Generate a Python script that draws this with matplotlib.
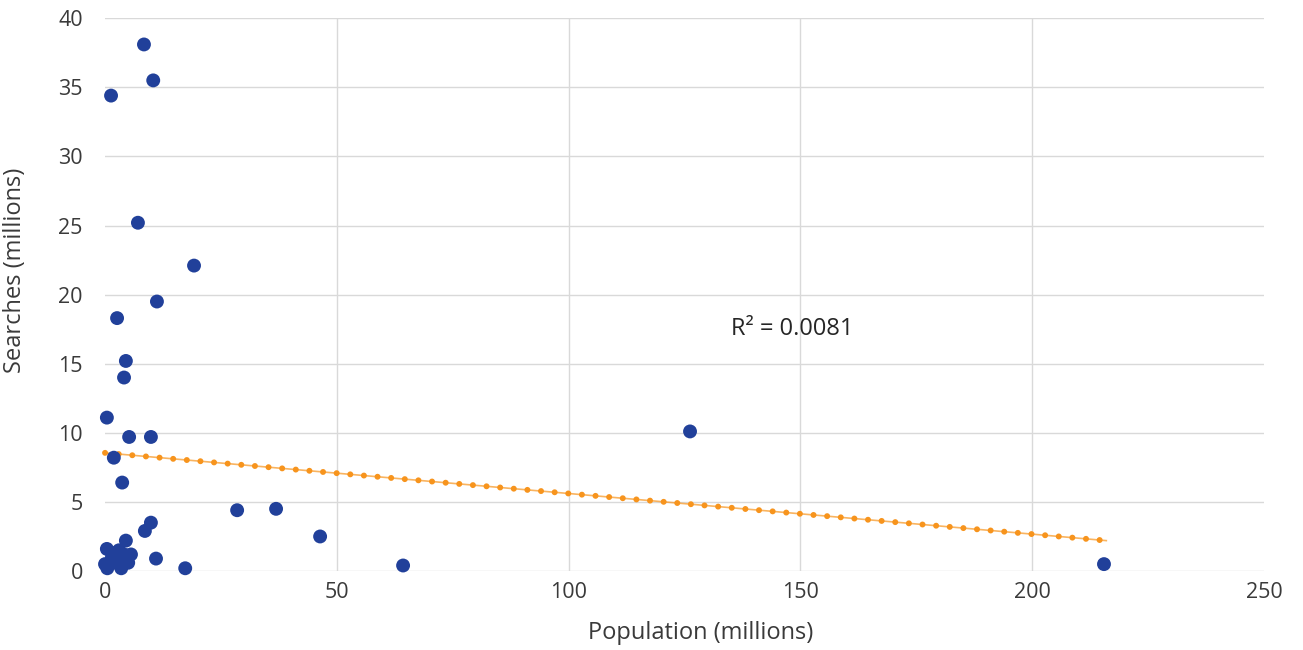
import numpy as np
import matplotlib.pyplot as plt

# Population vs searches, both in millions
population = [8.4, 10.4, 1.3, 7.1, 19.2, 11.2, 2.6, 4.5, 4.1, 0.4,
              5.2, 9.9, 1.9, 3.7, 126.2, 28.5, 36.9, 46.4, 64.3, 215.5,
              17.3, 11.0, 9.9, 8.6, 4.5, 5.6, 0.0, 0.4, 0.5, 3.5,
              5.0, 3.0, 1.5, 2.4, 4.1, 1.7, 3.7]
searches = [38.1, 35.5, 34.4, 25.2, 22.1, 19.5, 18.3, 15.2, 14.0, 11.1,
            9.7, 9.7, 8.2, 6.4, 10.1, 4.4, 4.5, 2.5, 0.4, 0.5,
            0.2, 0.9, 3.5, 2.9, 2.2, 1.2, 0.5, 1.6, 0.2, 0.2,
            0.6, 1.5, 1.0, 0.6, 1.2, 1.3, 0.9]

# linear trendline end points
trend_x = [0, 216]
trend_y = [8.55, 2.2]
r_squared = "R² = 0.0081"

x_ticks = [0, 50, 100, 150, 200, 250]
y_ticks = [0, 5, 10, 15, 20, 25, 30, 35, 40]

plt.rcParams['font.family'] = ['Open Sans', 'DejaVu Sans']

fig = plt.figure(figsize=(13.03, 6.5), dpi=100)
ax = fig.add_axes([0.0806, 0.1215, 0.8894, 0.8505])

for x in x_ticks[1:-1]:
    ax.axvline(x, color='#d9d9d9', lw=1.0, zorder=0)
for y in y_ticks:
    ax.axhline(y, color='#d9d9d9', lw=1.0, zorder=0)

# trendline: thin line + round dots
ax.plot(trend_x, trend_y, color='#f7941d', lw=1.2, alpha=0.7, zorder=2, clip_on=False)
ax.plot(trend_x, trend_y, color='#f7941d', lw=4.3, linestyle=(0, (0.01, 2.28)),
        dash_capstyle='round', zorder=2, clip_on=False)

ax.scatter(population, searches, s=100, color='#21409a', edgecolors='none',
           zorder=3, clip_on=False)

ax.text(135, 17.5, r_squared, fontsize=17, color='#262626', ha='left', va='center')

ax.set_xlim(0, 250)
ax.set_ylim(0, 40)
ax.set_xticks(x_ticks)
ax.set_yticks(y_ticks)
ax.tick_params(length=0, labelsize=15.5, colors='#3a3a3a')
ax.tick_params(axis='x', pad=8)
ax.tick_params(axis='y', pad=16)
for s in ax.spines.values():
    s.set_visible(False)

ax.set_xlabel('Population (millions)', fontsize=17, color='#3a3a3a')
ax.set_ylabel('Searches (millions)', fontsize=17, color='#3a3a3a')
ax.xaxis.set_label_coords(0.514, -0.09)
ax.yaxis.set_label_coords(-0.0673, 0.544)

fig.savefig('out.png', dpi=100)
